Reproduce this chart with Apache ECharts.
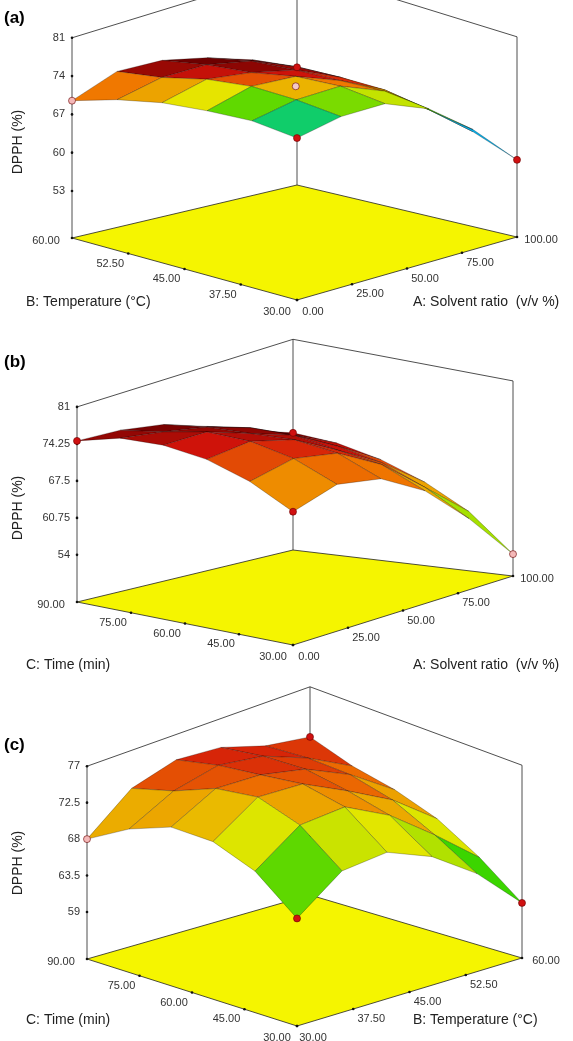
<!DOCTYPE html>
<html><head><meta charset="utf-8">
<script src="https://cdn.jsdelivr.net/npm/echarts@6/dist/echarts.min.js"></script>
<style>html,body{margin:0;padding:0;background:#fff}#main{width:573px;height:1041px}</style>
</head><body><div id="main"></div>
<script>
// surface values: rows = right-hand factor (front -> right corner), cols = left-hand factor (front -> left corner)
var surfA = [
  [62.9, 65, 66.5, 68, 69, 69.5],
  [65.5, 68, 70.5, 72.5, 74, 75],
  [67.4, 70.5, 73, 75, 76.5, 77.5],
  [67, 70.5, 73.5, 75.5, 77.5, 78.5],
  [64, 68, 71.5, 74, 76.5, 78.5],
  [58.5, 63, 67, 70.5, 74, 77]
];
var surfB = [
  [60.6, 64.5, 68, 71, 73.5, 74.8],
  [63.5, 67.5, 71, 74, 76, 77],
  [64, 68.5, 72, 75, 77, 78.5],
  [62, 67, 71, 74.5, 77, 78.5],
  [57, 63, 68, 72, 75.5, 78],
  [49.4, 57, 63, 68.5, 73.5, 77.8]
];
var surfC = [
  [61.5, 65, 67.5, 69, 69, 68],
  [65, 69, 72, 73.5, 74, 73.5],
  [66.5, 71, 74, 76, 76.5, 76.5],
  [66, 70.5, 74, 76, 77, 77.5],
  [64, 68.5, 72, 74.5, 76, 77],
  [60, 64.5, 68.5, 71.5, 74, 77.6]
];
// design points [u, v, value, colour]
var ptsA = [[0, 1, 69.5, '#f4b8b8'], [0, 0, 62.9, '#d01010'], [0.5, 0.5, 72.5, '#f4c8c8'], [1, 0, 58.5, '#d01010'], [1, 1, 77, '#d01010']];
var ptsB = [[0, 1, 74.8, '#d01010'], [0, 0, 60.6, '#d01010'], [1, 0, 49.4, '#f4b8b8'], [1, 1, 77.8, '#d01010']];
var ptsC = [[0, 1, 68, '#f4b8b8'], [0, 0, 61.5, '#d01010'], [1, 0, 60, '#d01010'], [1, 1, 77.6, '#d01010']];
var zTicksA = [53, 60, 67, 74, 81];
var zTicksB = [54, 60.75, 67.5, 74.25, 81];
var zTicksC = [59, 63.5, 68, 72.5, 77];
var ticksSolvent = ['0.00', '25.00', '50.00', '75.00', '100.00'];
var ticksTemp = ['30.00', '37.50', '45.00', '52.50', '60.00'];
var ticksTime = ['30.00', '45.00', '60.00', '75.00', '90.00'];

var panels = [
  {tag: '(a)', tagY: 18, surf: surfA, pts: ptsA, zt: zTicksA, zf: 44.4, s: 5.47, fF: 1.6, fB: 0.66,
   F: [297, 300], R: [517, 237], B: [297, 185], L: [72, 238], rt: ticksSolvent, lt: ticksTemp,
   rName: 'A: Solvent ratio  (v/v %)', lName: 'B: Temperature (°C)', nameY: 302, yl: 142, cmin: 61, cmax: 77},
  {tag: '(b)', tagY: 362, surf: surfB, pts: ptsB, zt: zTicksB, zf: 45.4, s: 5.48, fF: 1.6, fB: 0.66,
   F: [293, 645], R: [513, 576], B: [293, 550], L: [77, 602], rt: ticksSolvent, lt: ticksTime,
   rName: 'A: Solvent ratio  (v/v %)', lName: 'C: Time (min)', nameY: 665, yl: 508, cmin: 38, cmax: 78},
  {tag: '(c)', tagY: 745, surf: surfC, pts: ptsC, zt: zTicksC, zf: 53.2, s: 8.1, fF: 1.6, fB: 0.8,
   F: [297, 1026], R: [522, 958], B: [310, 895], L: [87, 959], rt: ticksTemp, lt: ticksTime,
   rName: 'B: Temperature (°C)', lName: 'C: Time (min)', nameY: 1020, yl: 863, cmin: 53, cmax: 83}
];

var stops = [[0, [40, 60, 255]], [0.18, [0, 200, 230]], [0.35, [30, 210, 0]], [0.52, [230, 230, 0]],
  [0.68, [240, 120, 0]], [0.82, [210, 20, 10]], [1, [110, 0, 0]]];
function colorOf(t) {
  t = Math.max(0, Math.min(1, t));
  for (var i = 1; i < stops.length; i++) {
    if (t <= stops[i][0]) {
      var a = stops[i - 1], b = stops[i], k = (t - a[0]) / (b[0] - a[0]);
      var c = a[1].map(function (v, j) { return Math.round(v + (b[1][j] - v) * k); });
      return 'rgb(' + c.join(',') + ')';
    }
  }
}

function buildPanel(p, api) {
  function floorXY(u, v) {
    var x = (1 - u) * (1 - v) * p.F[0] + u * (1 - v) * p.R[0] + u * v * p.B[0] + (1 - u) * v * p.L[0];
    var y = (1 - u) * (1 - v) * p.F[1] + u * (1 - v) * p.R[1] + u * v * p.B[1] + (1 - u) * v * p.L[1];
    return [x, y];
  }
  function depth(u, v) {
    var d = u + v;
    return d < 1 ? p.fF + (1 - p.fF) * d : 1 + (p.fB - 1) * (d - 1);
  }
  function P(u, v, z, f) {
    var q = floorXY(u, v);
    return api.coord([q[0], q[1] - (z - p.zf) * p.s * (f || depth(u, v))]);
  }
  var ch = [];
  var zTop = p.zt[p.zt.length - 1];
  var line = function (a, b) {
    ch.push({type: 'line', shape: {x1: a[0], y1: a[1], x2: b[0], y2: b[1]}, style: {stroke: '#222', lineWidth: 0.8}});
  };
  ch.push({type: 'polygon', shape: {points: [P(0, 0, p.zf), P(1, 0, p.zf), P(1, 1, p.zf), P(0, 1, p.zf)]},
    style: {fill: '#f5f500', stroke: '#222', lineWidth: 0.8}});
  var topL = P(0, 1, zTop, 1), topR = P(1, 0, zTop, 1), topB = P(1, 1, zTop, 1.08);
  line(P(0, 1, p.zf), topL); line(P(1, 1, p.zf), topB); line(P(1, 0, p.zf), topR);
  line(topL, topB); line(topB, topR);
  p.zt.forEach(function (z) {
    var q = P(0, 1, z, 1);
    ch.push({type: 'circle', shape: {cx: q[0], cy: q[1], r: 1.3}, style: {fill: '#111'}});
    ch.push({type: 'text', x: q[0] - 7, y: q[1], style: {text: String(z), font: '11px Arial', fill: '#333', align: 'right', verticalAlign: 'middle'}});
  });
  var n = p.rt.length - 1;
  for (var k = 0; k <= n; k++) {
    var t = k / n, qr = P(t, 0, p.zf), ql = P(0, t, p.zf);
    ch.push({type: 'circle', shape: {cx: qr[0], cy: qr[1], r: 1.3}, style: {fill: '#111'}});
    ch.push({type: 'circle', shape: {cx: ql[0], cy: ql[1], r: 1.3}, style: {fill: '#111'}});
    var rx = k === 0 ? 16 : (k === n ? 24 : 18), ry = k === n ? 3 : (k === 0 ? 12 : 10);
    var lx = k === 0 ? -20 : (k === n ? -26 : -18), ly = k === n ? 3 : (k === 0 ? 12 : 10);
    ch.push({type: 'text', x: qr[0] + rx, y: qr[1] + ry, style: {text: p.rt[k], font: '11px Arial', fill: '#333', align: 'center', verticalAlign: 'middle'}});
    ch.push({type: 'text', x: ql[0] + lx, y: ql[1] + ly, style: {text: p.lt[k], font: '11px Arial', fill: '#333', align: 'center', verticalAlign: 'middle'}});
  }
  var g = p.surf, ni = g.length - 1, nj = g[0].length - 1, quads = [];
  for (var i = 0; i < ni; i++) for (var j = 0; j < nj; j++) quads.push([i, j]);
  quads.sort(function (a, b) { return (b[0] + b[1]) - (a[0] + a[1]); });
  quads.forEach(function (q) {
    var i = q[0], j = q[1];
    var m = (g[i][j] + g[i + 1][j] + g[i][j + 1] + g[i + 1][j + 1]) / 4;
    ch.push({type: 'polygon', shape: {points: [
      P(i / ni, j / nj, g[i][j]), P((i + 1) / ni, j / nj, g[i + 1][j]),
      P((i + 1) / ni, (j + 1) / nj, g[i + 1][j + 1]), P(i / ni, (j + 1) / nj, g[i][j + 1])]},
      style: {fill: colorOf((m - p.cmin) / (p.cmax - p.cmin)), stroke: 'rgba(0,0,0,0.5)', lineWidth: 0.5}});
  });
  p.pts.forEach(function (d) {
    var q = P(d[0], d[1], d[2]);
    ch.push({type: 'circle', shape: {cx: q[0], cy: q[1], r: 3.5}, style: {fill: d[3], stroke: '#600', lineWidth: 0.6}});
  });
  ch.push({type: 'text', x: 4, y: p.tagY, style: {text: p.tag, font: 'bold 17px Arial', fill: '#000', verticalAlign: 'middle'}});
  ch.push({type: 'text', x: 26, y: p.nameY, style: {text: p.lName, font: '14px Arial', fill: '#222', verticalAlign: 'middle'}});
  ch.push({type: 'text', x: 413, y: p.nameY, style: {text: p.rName, font: '14px Arial', fill: '#222', verticalAlign: 'middle'}});
  ch.push({type: 'text', x: 18, y: p.yl, rotation: Math.PI / 2, style: {text: 'DPPH (%)', font: '14px Arial', fill: '#222', align: 'center', verticalAlign: 'middle'}});
  return {type: 'group', children: ch};
}

var chart = echarts.init(document.getElementById('main'));
chart.setOption({
  animation: false,
  grid: {left: 0, right: 0, top: 0, bottom: 0},
  xAxis: {type: 'value', min: 0, max: 573, show: false},
  yAxis: {type: 'value', min: 0, max: 1041, inverse: true, show: false},
  series: panels.map(function (p) {
    return {type: 'custom', coordinateSystem: 'cartesian2d', data: [[0, 0]], silent: true,
      renderItem: function (params, api) { return buildPanel(p, api); }};
  })
});
</script></body></html>
